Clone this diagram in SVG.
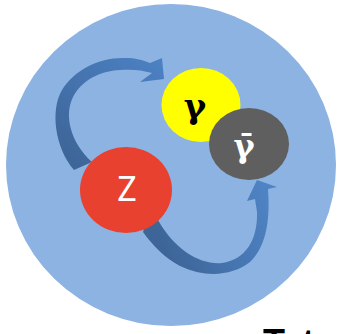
<svg xmlns="http://www.w3.org/2000/svg" width="339" height="334" viewBox="0 0 339 334">
<style>
.lbl{font-family:"DejaVu Serif","Liberation Serif",serif;font-weight:bold;text-anchor:middle}
.z{font-family:"Noto Sans","Open Sans",sans-serif;text-anchor:middle;fill:#ffffff}
</style>
<defs>
<linearGradient id="gTop" gradientUnits="userSpaceOnUse" x1="80" y1="165" x2="160" y2="65">
<stop offset="0" stop-color="#3e6699"/>
<stop offset="1" stop-color="#4b80c2"/>
</linearGradient>
<linearGradient id="gBot" gradientUnits="userSpaceOnUse" x1="155" y1="230" x2="268" y2="185">
<stop offset="0" stop-color="#3d6597"/>
<stop offset="1" stop-color="#4f84c6"/>
</linearGradient>
</defs>
<rect width="339" height="334" fill="#ffffff"/>
<ellipse id="bg" cx="171" cy="165" rx="165" ry="161" fill="#8db3e2"/>
<g id="connectors">
<path d="M74,170 C55,148 50,110 62,90 C74,70 100,57 125,58 C135,58 143,60 150,63 L162,58 L164,79 L140,82 L152,73 C142,70 132,69 120,70 C100,71 82,80 73,97 C64,115 70,142 92,162 Z" fill="url(#gTop)"/>
<path d="M150,212 L158,220 C175,250 200,265 222,263 C245,260 258,240 257,212 L255,199 L247,201 L257,180 L277,187 L268,189 C270,215 268,245 250,262 C232,276 205,278 180,266 C165,258 153,246 143,232 Z" fill="url(#gBot)"/>
</g>
<g id="gamma">
<ellipse cx="201" cy="105" rx="39.5" ry="37" fill="#ffff00"/>
<text class="lbl" x="195" y="118" font-size="34" fill="#000000">γ</text>
</g>
<g id="gammabar">
<ellipse cx="249" cy="144" rx="40" ry="36" fill="#5f5f5f"/>
<text class="lbl" x="244" y="157" font-size="32" fill="#ffffff">γ̄</text>
</g>
<g id="z">
<ellipse cx="126" cy="190" rx="46" ry="43" fill="#e9412f"/>
<text class="z" x="127" y="201" font-size="34">Z</text>
</g>
<text x="263" y="355" font-family="Liberation Sans, Arial, sans-serif" font-weight="bold" font-size="36" fill="#000000">Tet</text>
</svg>
